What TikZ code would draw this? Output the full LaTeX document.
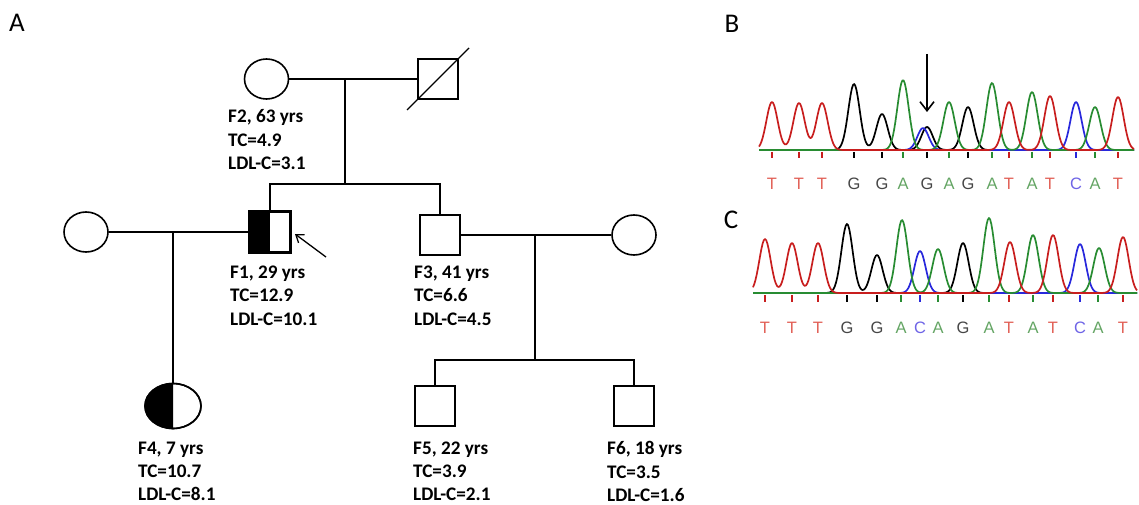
\documentclass[tikz,border=0pt]{standalone}
\usepackage{fontspec}
\setmainfont{Carlito}
\newfontfamily\seqfont{Liberation Sans}
\usetikzlibrary{shapes.geometric,arrows.meta}
\definecolor{tT}{RGB}{200,30,30}
\definecolor{tG}{RGB}{0,0,0}
\definecolor{tA}{RGB}{40,140,50}
\definecolor{tC}{RGB}{40,40,220}
\definecolor{lT}{RGB}{225,95,85}
\definecolor{lG}{RGB}{70,70,70}
\definecolor{lA}{RGB}{100,165,100}
\definecolor{lC}{RGB}{110,100,230}
\begin{document}
\begin{tikzpicture}[x=1pt,y=-1pt,
  male/.style={draw,line width=1.6pt,rectangle,minimum size=40pt,inner sep=0pt},
  female/.style={draw,line width=1.6pt,ellipse,minimum width=44pt,minimum height=40pt,inner sep=0pt},
  link/.style={line width=1.4pt},
  lbl/.style={font=\bfseries\fontsize{19.2}{23.2}\selectfont,align=left,anchor=north west,inner sep=0pt},
  panel/.style={font=\fontsize{27}{30}\selectfont,inner sep=0pt},
  seq/.style={font=\seqfont\fontsize{16.5}{18}\selectfont,inner sep=0pt},
  trace/.style={line width=1.7pt,line join=round},
  tick/.style={line width=1.8pt}]
\useasboundingbox (0,0) rectangle (1139,505);

% panel labels
\node[panel] (pA) at (17,23) {A};
\node[panel] (pB) at (732,24) {B};
\node[panel] (pC) at (731,220) {C};

% ---------- pedigree ----------
\node[female] (F2) at (266.5,79) {};
\node[male] (P) at (438,79) {};
\draw[link] (P.center) +(-31,31) -- +(31,-31);
\draw[link] (F2.east) -- (P.west);
\coordinate (m1) at (345,79);
\coordinate (s1) at (345,184);
\draw[link] (m1) -- (s1);

\node[male] (F1) at (270,232) {};
\fill (F1.north west) rectangle (F1.south);
\draw[line width=1.6pt] (F1.north west) rectangle (F1.south east);
\node[male] (F3) at (440,235) {};
\draw[link] (F1.north) |- (s1);
\draw[link] (s1) -| (F3.north);

\node[female] (W1) at (86,232) {};
\draw[link] (W1.east) -- (F1.west);
\coordinate (m2) at (173,232);
\node[female,minimum width=56pt,minimum height=45pt] (F4) at (173,406) {};
\begin{scope}
  \clip (F4.west |- F4.north) rectangle (F4.south);
  \fill (F4.center) ellipse [x radius=28pt, y radius=22.5pt];
\end{scope}
\draw[line width=1.6pt] (F4.center) ellipse [x radius=28pt, y radius=22.5pt];
\draw[link] (m2) -- (F4.north);

\coordinate (arrS) at (326,257);
\coordinate (arrT) at (295,234);
\draw[line width=1.3pt,-{Straight Barb[length=7pt,width=10pt]}] (arrS) -- (arrT);

\node[female] (W3) at (634,235) {};
\draw[link] (F3.east) -- (W3.west);
\coordinate (m3) at (535,235);
\coordinate (s3) at (535,360);
\draw[link] (m3) -- (s3);
\node[male] (F5) at (435,406) {};
\node[male] (F6) at (634,406) {};
\draw[link] (F5.north) |- (s3);
\draw[link] (s3) -| (F6.north);

\node[lbl] (L2) at (228,109.5) {F2, 63 yrs\\TC=4.9\\LDL-C=3.1};
\node[lbl] (L1) at (230,266) {F1, 29 yrs\\TC=12.9\\LDL-C=10.1};
\node[lbl] (L3) at (414,266) {F3, 41 yrs\\TC=6.6\\LDL-C=4.5};
\node[lbl] (L4) at (138,441.5) {F4, 7 yrs\\TC=10.7\\LDL-C=8.1};
\node[lbl] (L5) at (413,441.5) {F5, 22 yrs\\TC=3.9\\LDL-C=2.1};
\node[lbl] (L6) at (607,441.5) {F6, 18 yrs\\TC=3.5\\LDL-C=1.6};

% ---------- chromatogram B ----------
\draw[line width=2.4pt] (759,150) -- (1132,150);
\draw[trace,tG] plot[domain=759:1134,samples=320] (\x,{150-(66*exp(-min(((\x-854)/8)^2,30))+36*exp(-min(((\x-882)/8)^2,30))+23*exp(-min(((\x-927)/8)^2,30))+43*exp(-min(((\x-968)/8)^2,30)))});
\draw[trace,tC] plot[domain=759:1134,samples=320] (\x,{150-(22*exp(-min(((\x-923)/8)^2,30))+48*exp(-min(((\x-1076)/8)^2,30)))});
\draw[trace,tA] plot[domain=759:1134,samples=320] (\x,{150-(70*exp(-min(((\x-903)/8)^2,30))+48*exp(-min(((\x-949)/8)^2,30))+67*exp(-min(((\x-992)/8)^2,30))+58*exp(-min(((\x-1032)/8)^2,30))+43*exp(-min(((\x-1095)/8)^2,30)))});
\draw[trace,tT] plot[domain=759:1134,samples=320] (\x,{150-(48*exp(-min(((\x-772)/8)^2,30))+47*exp(-min(((\x-799)/8)^2,30))+47*exp(-min(((\x-822)/8)^2,30))+48*exp(-min(((\x-1009)/8)^2,30))+54*exp(-min(((\x-1050)/8)^2,30))+53*exp(-min(((\x-1118)/8)^2,30)))});
\foreach \xx/\b [count=\i] in {772/T,799/T,822/T,854/G,882/G,903/A,927/G,949/A,968/G,992/A,1009/T,1032/A,1050/T,1076/C,1095/A,1118/T}{
  \draw[tick,draw=t\b] (\xx,152) -- (\xx,158);
  \node[seq,text=l\b] (sb\i) at (\xx,184) {\b};
}
\coordinate (aB1) at (927,54);
\coordinate (aB2) at (927,112);
\draw[line width=1.6pt,-{Straight Barb[length=9pt,width=14pt]}] (aB1) -- (aB2);

% ---------- chromatogram C ----------
\draw[line width=2.4pt] (753,293) -- (1137,293);
\draw[trace,tG] plot[domain=753:1137,samples=320] (\x,{293-(69*exp(-min(((\x-847)/8)^2,30))+38*exp(-min(((\x-877)/8)^2,30))+50*exp(-min(((\x-963)/8)^2,30)))});
\draw[trace,tC] plot[domain=753:1137,samples=320] (\x,{293-(42*exp(-min(((\x-920)/8)^2,30))+49*exp(-min(((\x-1080)/8)^2,30)))});
\draw[trace,tA] plot[domain=753:1137,samples=320] (\x,{293-(73*exp(-min(((\x-902)/8)^2,30))+44*exp(-min(((\x-938)/8)^2,30))+75*exp(-min(((\x-989)/8)^2,30))+58*exp(-min(((\x-1033)/8)^2,30))+45*exp(-min(((\x-1099)/8)^2,30)))});
\draw[trace,tT] plot[domain=753:1137,samples=320] (\x,{293-(54*exp(-min(((\x-765)/8)^2,30))+50*exp(-min(((\x-792)/8)^2,30))+50*exp(-min(((\x-818)/8)^2,30))+51*exp(-min(((\x-1010)/8)^2,30))+58*exp(-min(((\x-1053)/8)^2,30))+56*exp(-min(((\x-1123)/8)^2,30)))});
\foreach \xx/\b [count=\i] in {765/T,792/T,818/T,847/G,877/G,901/A,920/C,938/A,963/G,989/A,1009/T,1033/A,1053/T,1080/C,1098/A,1123/T}{
  \draw[tick,draw=t\b] (\xx,295) -- (\xx,302);
  \node[seq,text=l\b] (sc\i) at (\xx,328) {\b};
}
\end{tikzpicture}
\end{document}
